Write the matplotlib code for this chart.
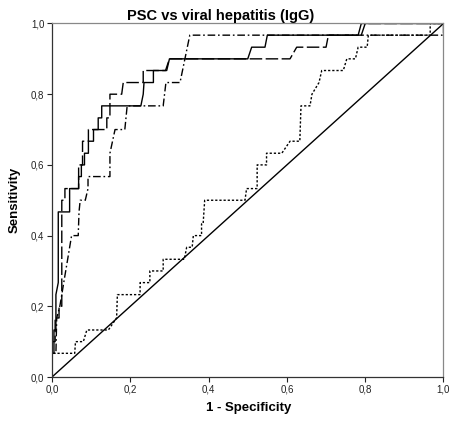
import matplotlib
matplotlib.use("Agg")
import matplotlib.pyplot as plt

# ROC curves (1 - specificity, sensitivity)
solid_x = [0, 0, 0.005, 0.005, 0.01, 0.01, 0.016, 0.016, 0.045, 0.045, 0.068, 0.068,
           0.075, 0.075, 0.083, 0.083, 0.093, 0.093, 0.106, 0.106, 0.118, 0.118, 0.127,
           0.127, 0.227, 0.233, 0.235, 0.259, 0.259, 0.293, 0.30, 0.50, 0.51, 0.544,
           0.55, 0.782, 0.79, 1.0]
solid_y = [0, 0.067, 0.067, 0.133, 0.133, 0.233, 0.267, 0.467, 0.467, 0.533, 0.533, 0.567,
           0.567, 0.60, 0.60, 0.633, 0.633, 0.667, 0.667, 0.70, 0.70, 0.733, 0.733,
           0.767, 0.767, 0.80, 0.833, 0.833, 0.867, 0.867, 0.90, 0.90, 0.933, 0.933,
           0.967, 0.967, 1.0, 1.0]

dash_x = [0, 0, 0.008, 0.008, 0.018, 0.018, 0.025, 0.025, 0.033, 0.033, 0.068, 0.068,
          0.078, 0.078, 0.093, 0.093, 0.14, 0.14, 0.148, 0.148, 0.178, 0.182, 0.233,
          0.233, 0.29, 0.30, 0.608, 0.625, 0.70, 0.706, 0.79, 0.80, 1.0]
dash_y = [0, 0.10, 0.10, 0.167, 0.167, 0.20, 0.20, 0.50, 0.50, 0.533, 0.533, 0.60,
          0.60, 0.667, 0.667, 0.70, 0.70, 0.733, 0.733, 0.80, 0.80, 0.833, 0.833,
          0.867, 0.867, 0.90, 0.90, 0.933, 0.933, 0.967, 0.967, 1.0, 1.0]

dashdot_x = [0, 0, 0.01, 0.012, 0.02, 0.025, 0.03, 0.035, 0.04, 0.05, 0.067, 0.069,
             0.072, 0.085, 0.092, 0.092, 0.148, 0.148, 0.161, 0.186, 0.192, 0.284,
             0.291, 0.327, 0.352, 1.0, 1.0]
dashdot_y = [0, 0.067, 0.067, 0.167, 0.20, 0.233, 0.267, 0.30, 0.333, 0.40, 0.40, 0.467,
             0.50, 0.50, 0.533, 0.567, 0.567, 0.633, 0.70, 0.70, 0.767, 0.767,
             0.833, 0.833, 0.967, 0.967, 1.0]

dot_x = [0, 0, 0.058, 0.06, 0.08, 0.089, 0.144, 0.165, 0.167, 0.225, 0.225, 0.25, 0.25,
         0.284, 0.284, 0.338, 0.344, 0.358, 0.361, 0.382, 0.382, 0.386, 0.39, 0.493,
         0.497, 0.524, 0.524, 0.548, 0.548, 0.587, 0.608, 0.633, 0.636, 0.659, 0.664,
         0.682, 0.689, 0.744, 0.753, 0.775, 0.782, 0.805, 0.808, 0.966, 0.966, 1.0]
dot_y = [0, 0.067, 0.067, 0.10, 0.10, 0.133, 0.133, 0.167, 0.233, 0.233, 0.267, 0.267, 0.30,
         0.30, 0.333, 0.333, 0.367, 0.367, 0.40, 0.40, 0.433, 0.433, 0.50, 0.50,
         0.533, 0.533, 0.60, 0.60, 0.633, 0.633, 0.667, 0.667, 0.767, 0.767, 0.80,
         0.833, 0.867, 0.867, 0.90, 0.90, 0.933, 0.933, 0.967, 0.967, 1.0, 1.0]

ref_x = [0, 1]
ref_y = [0, 1]

ticks = [0.0, 0.2, 0.4, 0.6, 0.8, 1.0]
tick_labels = ["0,0", "0,2", "0,4", "0,6", "0,8", "1,0"]

plt.rcParams['font.family'] = ['Liberation Sans', 'DejaVu Sans']

W, H = 452, 423
fig = plt.figure(figsize=(W / 100, H / 100), dpi=100)
ax = fig.add_axes([52 / W, 46 / H, 391.5 / W, 353.5 / H])

lw = 1.0
ax.plot(ref_x, ref_y, color='black', lw=lw)
ax.plot(dot_x, dot_y, color='black', lw=lw, linestyle=(0, (1.6, 1.4)))
ax.plot(dashdot_x, dashdot_y, color='black', lw=lw, linestyle=(0, (5.5, 2, 1.2, 2)))
ax.plot(dash_x, dash_y, color='black', lw=lw, linestyle=(0, (9, 2.5)))
ax.plot(solid_x, solid_y, color='black', lw=lw)

ax.set_xlim(0, 1)
ax.set_ylim(0, 1)
ax.set_xticks(ticks)
ax.set_xticklabels(tick_labels)
ax.set_yticks(ticks)
ax.set_yticklabels(tick_labels)
ax.tick_params(direction='out', length=3.5, width=0.8, labelsize=7, pad=2,
               colors='#222222')
for s in ['left', 'bottom']:
    ax.spines[s].set_color('#333333')
    ax.spines[s].set_linewidth(0.9)
for s in ['top', 'right']:
    ax.spines[s].set_color('#888888')
    ax.spines[s].set_linewidth(0.9)

fig.text(221 / W, 1 - 16 / H, "PSC vs viral hepatitis (IgG)", ha='center', va='center',
         fontsize=10.5, fontweight='bold')
fig.text(249 / W, 1 - 408 / H, "1 - Specificity", ha='center', va='center',
         fontsize=9.5, fontweight='bold')
fig.text(15 / W, 1 - 200 / H, "Sensitivity", ha='center', va='center', rotation=90,
         fontsize=9.5, fontweight='bold')

fig.savefig("out.png", dpi=100, facecolor='white')
